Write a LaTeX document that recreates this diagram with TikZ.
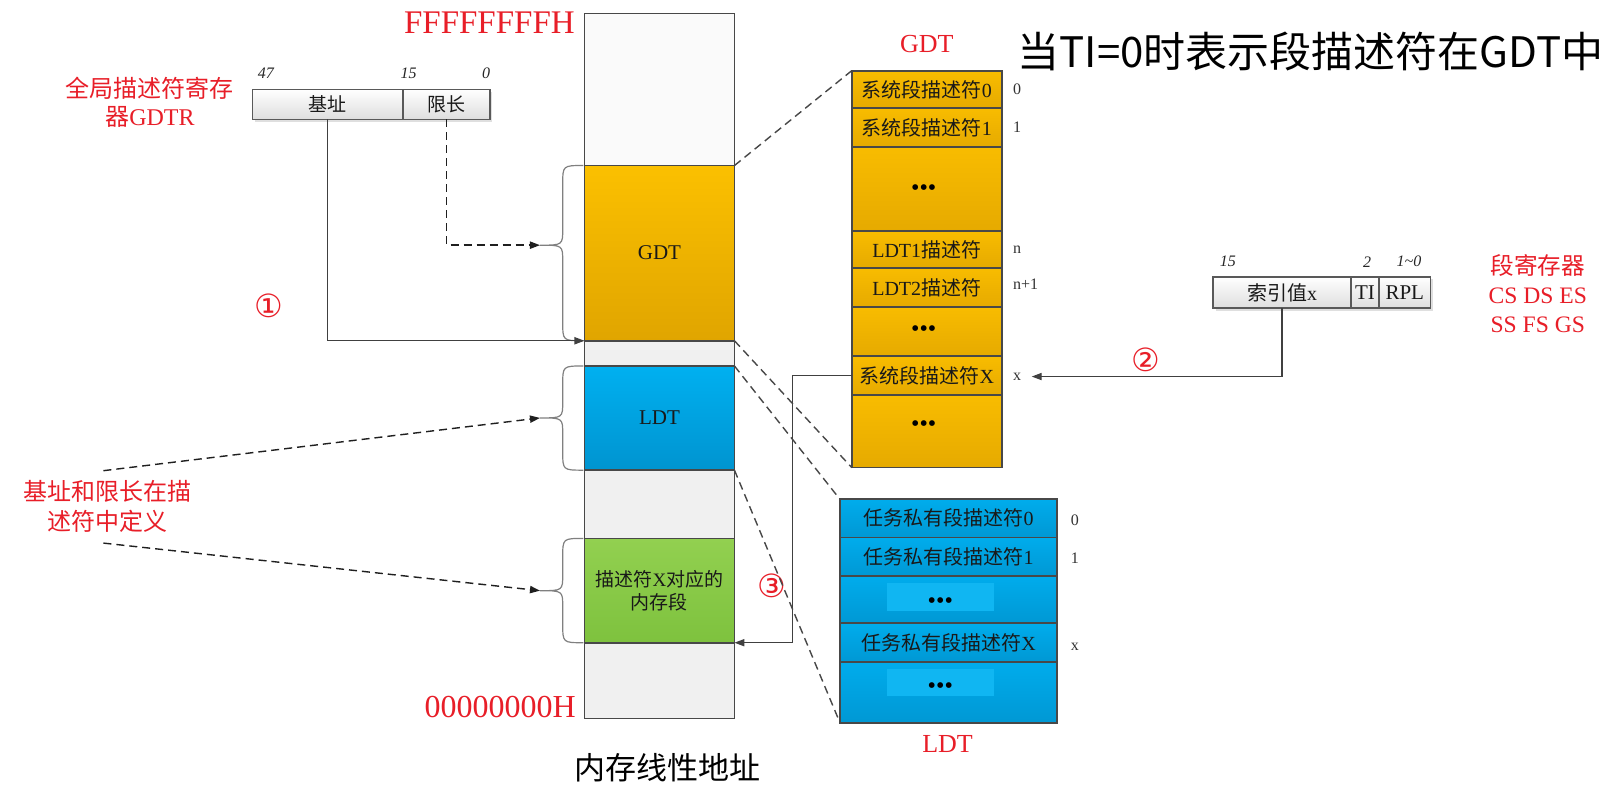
\documentclass[tikz,border=0pt]{standalone}
\usepackage{fontspec}
\setmainfont{Liberation Serif}
\newfontfamily\cjk{Noto Sans CJK SC}
\newfontfamily\symf{DejaVu Sans}
\usetikzlibrary{arrows.meta,shadows,calc}
\newcommand{\upx}{0.5172pt}
\definecolor{lblred}{RGB}{232,30,40}
\definecolor{orT}{RGB}{251,192,0}
\definecolor{orB}{RGB}{224,165,0}
\definecolor{orRT}{RGB}{248,188,0}
\definecolor{orRB}{RGB}{230,170,0}
\definecolor{blT}{RGB}{0,176,240}
\definecolor{blB}{RGB}{0,148,208}
\definecolor{blRT}{RGB}{0,172,236}
\definecolor{blRB}{RGB}{0,152,212}
\definecolor{blL}{RGB}{16,182,242}
\definecolor{grT}{RGB}{146,208,80}
\definecolor{grB}{RGB}{126,194,62}
\definecolor{colw}{RGB}{250,250,250}
\definecolor{colg}{RGB}{240,240,240}
\definecolor{bdr}{RGB}{72,72,72}
\newcommand{\drawbrace}[4]{%
  \draw[bracest] (#1,#2) .. controls (#1-20,#2) .. (#1-20,#2+18) -- (#1-20,#4-16)
    .. controls (#1-20,#4) .. (#1-42,#4) .. controls (#1-20,#4) .. (#1-20,#4+16)
    -- (#1-20,#3-18) .. controls (#1-20,#3) .. (#1,#3);}
\begin{document}
\begin{tikzpicture}[x=0.5172pt,y=-0.5172pt,
  cell/.style args={#1/#2}{draw=bdr, line width=0.9pt, minimum width=#1*\upx, minimum height=#2*\upx, anchor=north west, inner sep=0pt, outer sep=0pt, font=\fontsize{10}{12}\selectfont, text=black!90},
  gcell/.style={cell=145/#1, top color=orRT, bottom color=orRB},
  lcell/.style={cell=210/#1, top color=blRT, bottom color=blRB},
  regcell/.style={cell=#1, top color=white, bottom color=black!13, line width=0.8pt, draw=black!65, drop shadow={opacity=0.25, shadow xshift=1.2pt, shadow yshift=-1.2pt}},
  idx/.style={font=\fontsize{8}{9}\selectfont, anchor=west, inner sep=1pt, text=black!80},
  bitnum/.style={font=\fontsize{8}{9}\selectfont\itshape, inner sep=0pt, text=black!85},
  redlbl/.style={text=lblred, align=center, inner sep=0pt},
  circnum/.style={text=lblred, font=\symf\fontsize{16}{16}\selectfont, inner sep=0pt},
  conn/.style={draw=black!75, line width=0.6pt},
  dconn/.style={draw=black!88, line width=0.7pt, dash pattern=on 4pt off 2.5pt},
  arr/.style={-{Triangle[length=5pt,width=3.6pt]}},
  bracest/.style={draw=black!50, line width=0.6pt},
  dots/.style={font=\fontsize{12}{12}\selectfont, inner sep=0pt}
]
\useasboundingbox (0,0) rectangle (1568,767);
\fill[white] (0,0) rectangle (1568,767);

% ---------- memory column ----------
\node[cell=145/147, fill=colw] (memtop) at (565,13) {};
\node[cell=145/169.4, top color=orT, bottom color=orB, font=\fontsize{10.5}{12}\selectfont] (gdtblk) at (565,160) {GDT};
\node[cell=145/24.4, fill=colg] (gap1) at (565,329.4) {};
\node[cell=145/100.7, top color=blT, bottom color=blB, font=\fontsize{10.5}{12}\selectfont] (ldtblk) at (565,353.8) {LDT};
\node[cell=145/66, fill=colg] (gap2) at (565,454.5) {};
\node[cell=145/100.8, top color=grT, bottom color=grB, align=center, font=\fontsize{9.5}{11.5}\selectfont] (grnblk) at (565,520.5) {{\cjk 描述符}X{\cjk 对应的}\\{\cjk 内存段}};
\node[cell=145/73.2, fill=colg] (membot) at (565,621.3) {};

\node[text=lblred, font=\fontsize{16.5}{18}\selectfont, anchor=base east, inner sep=0pt] (ftop) at (556,32) {FFFFFFFFH};
\node[text=lblred, font=\fontsize{16}{18}\selectfont, anchor=base east, inner sep=0pt] (fbot) at (557,694) {00000000H};
\node[font=\cjk\fontsize{15.5}{18}\selectfont, inner sep=0pt] (memlbl) at (645,742.5) {内存线性地址};

% ---------- GDTR ----------
\node[regcell=145.6/29, font=\cjk\fontsize{9.5}{11}\selectfont] (base) at (244,86.4) {基址};
\node[regcell=84/29, font=\cjk\fontsize{9.5}{11}\selectfont] (lim) at (389.6,86.4) {限长};
\node[bitnum] (b47) at (257,71) {47};
\node[bitnum] (b15) at (395,71) {15};
\node[bitnum] (b0) at (470,71) {0};
\node[redlbl, font=\cjk\fontsize{12}{14.2}\selectfont] (gdtrlbl) at (145,99) {全局描述符寄存\\器{\rmfamily GDTR}};
\node[circnum] (c1) at (260,296) {①};

% ---------- GDT table ----------
\node[gcell=36.4] (g0) at (823.4,68.3) {{\cjk 系统段描述符}0};
\node[gcell=37.1] (g1) at (823.4,104.7) {{\cjk 系统段描述符}1};
\node[gcell=81.2] (g2) at (823.4,141.8) {};
\node[gcell=36.4] (g3) at (823.4,223) {LDT1{\cjk 描述符}};
\node[gcell=37.1] (g4) at (823.4,259.4) {LDT2{\cjk 描述符}};
\node[gcell=47.7] (g5) at (823.4,296.5) {};
\node[gcell=37.7] (g6) at (823.4,344.2) {{\cjk 系统段描述符}X};
\node[gcell=70.1] (g7) at (823.4,381.9) {};
\node[dots] (gd1) at (893,184) {•••};
\node[dots] (gd2) at (893,320) {•••};
\node[dots] (gd3) at (893,412) {•••};
\node[text=lblred, font=\fontsize{13}{14}\selectfont, anchor=base, inner sep=0pt] (gdtlbl) at (896,51) {GDT};
\node[idx] (i0) at (977,86) {0};
\node[idx] (i1) at (977,122.5) {1};
\node[idx] (in) at (977,241.7) {n};
\node[idx] (in1) at (977,274.6) {n+1};
\node[idx] (ix) at (977,364) {x};

% ---------- LDT table ----------
\node[lcell=36.8] (l0) at (812,482.7) {{\cjk 任务私有段描述符}0};
\node[lcell=37.4] (l1) at (812,519.5) {{\cjk 任务私有段描述符}1};
\node[lcell=45.7] (l2) at (812,556.9) {};
\node[lcell=37.1] (l3) at (812,602.6) {{\cjk 任务私有段描述符}X};
\node[lcell=59] (l4) at (812,639.7) {};
\fill[blL] (857,564) rectangle (961,591);
\fill[blL] (857,647) rectangle (961,673);
\node[dots] (ld1) at (909,583) {•••};
\node[dots] (ld2) at (909,665) {•••};
\node[text=lblred, font=\fontsize{13}{14}\selectfont, anchor=base, inner sep=0pt] (ldtlbl) at (916,727) {LDT};
\node[idx] (j0) at (1033,502.7) {0};
\node[idx] (j1) at (1033,539.5) {1};
\node[idx] (jx) at (1033,625) {x};

% ---------- selector ----------
\node[regcell=133.3/30.5, font=\fontsize{10}{12}\selectfont] (sidx) at (1172.7,267.5) {{\cjk 索引值}x};
\node[regcell=27/30.5, font=\fontsize{10.5}{12}\selectfont] (sti) at (1306,267.5) {TI};
\node[regcell=50/30.5, font=\fontsize{10.5}{12}\selectfont] (srpl) at (1333,267.5) {RPL};
\node[bitnum] (s15) at (1187,253) {15};
\node[bitnum] (s2) at (1321.6,253) {2};
\node[bitnum] (s10) at (1362,253) {1\textasciitilde 0};
\node[redlbl, font=\fontsize{11.8}{14.5}\selectfont] (seglbl) at (1486.6,284) {{\cjk 段寄存器}\\CS DS ES\\SS FS GS};
\node[circnum] (c2) at (1108,348) {②};

% ---------- title ----------
\node[font=\cjk\fontsize{21}{24}\selectfont, inner sep=0pt] (title) at (1267,50) {当TI=0时表示段描述符在GDT中};

% ---------- left label ----------
\node[redlbl, font=\cjk\fontsize{12}{15}\selectfont] (deflbl) at (103.6,490) {基址和限长在描\\述符中定义};
\node[circnum] (c3) at (746,566) {③};

% ---------- braces ----------
\drawbrace{564}{160}{329.4}{237}
\drawbrace{564}{353.8}{454.5}{404}
\drawbrace{564}{520.5}{621.3}{571}
\coordinate (gtip) at (522,237);
\coordinate (ltip) at (522,404);
\coordinate (ntip) at (522,571);
\coordinate (u1) at (100,455);
\coordinate (u2) at (100,525);
\coordinate (xline) at (766,0);

% ---------- connectors ----------
\draw[conn, arr] (base.south) |- (gdtblk.south west);
\draw[dconn, arr] (lim.south) |- (gtip);
\draw[dconn, arr] (u1) -- (ltip);
\draw[dconn, arr] (u2) -- (ntip);
\draw[conn, arr] (sidx.south) |- ($(ix.east)+(8,0)$);
\draw[conn, arr] (g6.west) -- (g6.west -| xline) |- (grnblk.south east);

% projection lines
\draw[dconn, draw=black!72] (gdtblk.north east) -- (g0.north west);
\draw[dconn, draw=black!72] (gdtblk.south east) -- (g7.south west);
\draw[dconn, draw=black!72] (ldtblk.north east) -- (l0.north west);
\draw[dconn, draw=black!72] (ldtblk.south east) -- (l4.south west);
\end{tikzpicture}
\end{document}
